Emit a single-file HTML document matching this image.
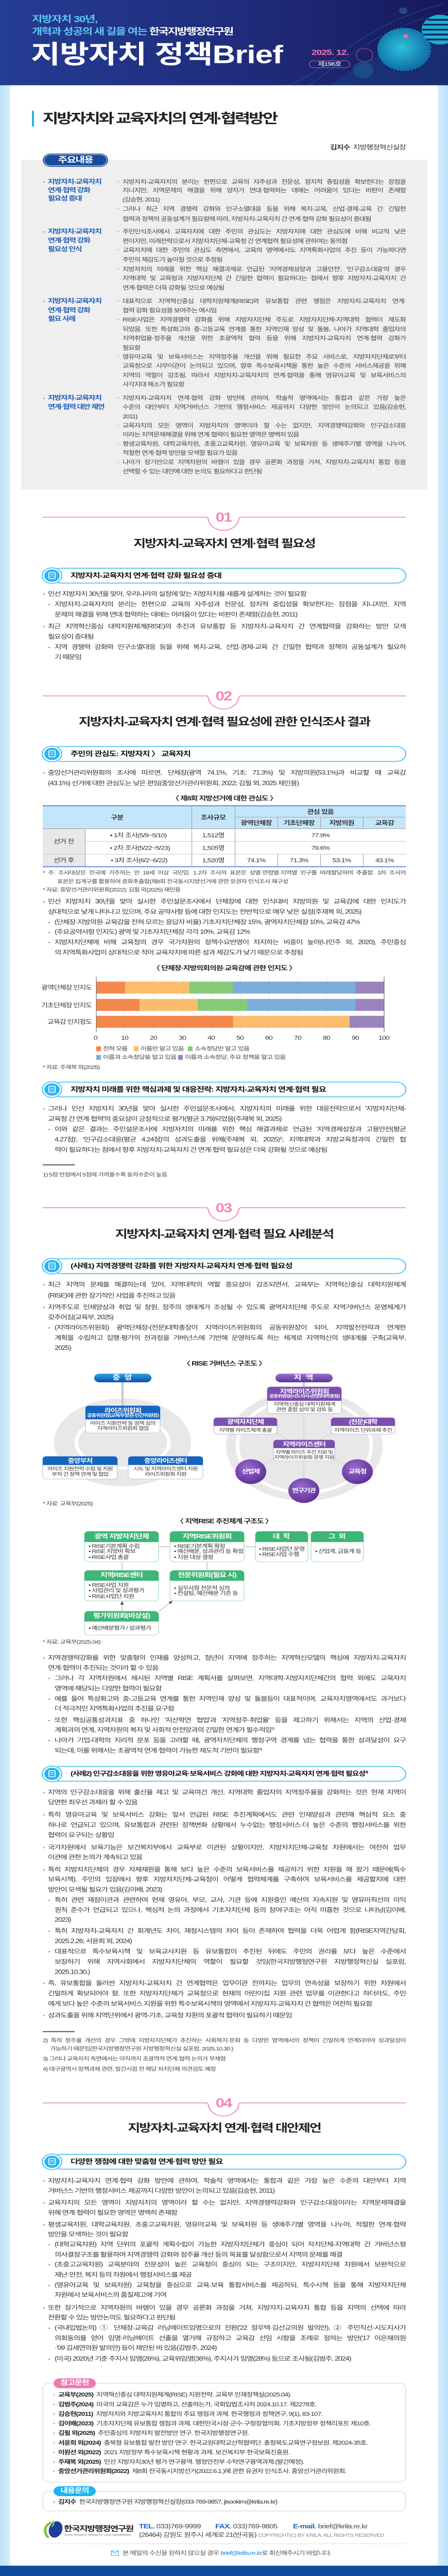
<!DOCTYPE html>
<html lang="ko"><head><meta charset="utf-8">
<style>
*{box-sizing:border-box}
html,body{margin:0;padding:0;width:100vw;height:100vh;overflow:hidden;background:#d6eefc}
#wrap{position:absolute;left:0;top:0;width:100vw;height:100vh;display:block}
#pg{position:relative;width:870px;height:6256px;overflow:hidden;background:linear-gradient(90deg,#bfe2f9 0,#d6eefc 20px,#d6eefc 850px,#bfe2f9 870px);font-family:"Liberation Sans","Noto Sans CJK KR",sans-serif}
.x{position:absolute;white-space:nowrap;z-index:2;font-family:"Liberation Sans","Noto Sans CJK KR",sans-serif}
.b{font-size:14.5px;letter-spacing:-1.1px;color:#333;line-height:20px}
.bu::before{content:"•";position:absolute;left:-10px;top:0;color:#2bb5ea;font-size:12px}
.da::before{content:"-";position:absolute;left:-13px;top:0}
.j{text-align:justify;text-align-last:justify}
.s{font-size:13.5px;letter-spacing:-1px;color:#444;line-height:20px;left:238px}
.sb::before{content:"·";position:absolute;left:-10px;color:#999;font-weight:bold}
.lb{font-size:15px;font-weight:bold;color:#1d5fbf;letter-spacing:-1.3px;line-height:20px;left:93px}
.pk::before{content:"•";position:absolute;left:-10px;color:#f07ab0;font-size:12px}
.tt{left:83px;width:705px;text-align:center;font-size:26px;font-weight:bold;letter-spacing:-2px;color:#222;line-height:36px}
.num{left:404px;width:60px;text-align:center;font-size:31px;font-weight:bold;color:#f386b8;letter-spacing:-2px;line-height:34px}
.sh{left:137px;font-size:16.5px;font-weight:bold;letter-spacing:-1px;color:#111;line-height:24px}
.n{font-size:12.5px;letter-spacing:-0.8px;color:#444;line-height:18px}
.cap{left:83px;width:705px;text-align:center;font-size:15px;font-weight:bold;letter-spacing:-1px;color:#222;line-height:20px}
.w{color:#fff;font-weight:bold;text-align:center}
.g{font-size:12.5px;letter-spacing:-0.8px;color:#333;line-height:16px}
.r{font-size:13.5px;letter-spacing:-0.9px;color:#333;line-height:20px;left:113px}
.r b{color:#222;margin-right:6px}
sup{line-height:0}
</style></head><body>
<svg id="wrap" viewBox="0 0 870 6256" preserveAspectRatio="none" xmlns="http://www.w3.org/2000/svg">
<foreignObject x="0" y="0" width="870" height="6256">
<div xmlns="http://www.w3.org/1999/xhtml" id="pg">

<svg width="870" height="6256" style="position:absolute;left:0;top:0;z-index:1;display:block" xmlns="http://www.w3.org/2000/svg">
<defs>
<linearGradient id="hd" x1="0" y1="0" x2="1" y2="0"><stop offset="0" stop-color="#243c93"/><stop offset="0.6" stop-color="#1f2a78"/><stop offset="1" stop-color="#16195a"/></linearGradient>
<radialGradient id="sp" cx="0.45" cy="0.45" r="0.6"><stop offset="0" stop-color="#2fd3e8"/><stop offset="1" stop-color="#0b6aa6"/></radialGradient>
<linearGradient id="bl" x1="0" y1="0" x2="0" y2="1"><stop offset="0" stop-color="#2aa3ea"/><stop offset="1" stop-color="#0c4fa8"/></linearGradient>
<linearGradient id="pu" x1="0" y1="0" x2="0" y2="1"><stop offset="0" stop-color="#9d6fd3"/><stop offset="1" stop-color="#5d3598"/></linearGradient>
<radialGradient id="pc" cx="0.4" cy="0.35" r="0.7"><stop offset="0" stop-color="#9a6ad0"/><stop offset="1" stop-color="#5a2f94"/></radialGradient>
</defs>
<rect x="20" y="207" width="830" height="6024" fill="#fff"/>
<rect x="0" y="6231" width="870" height="25" fill="#0f4c9f"/>
<rect x="0" y="0" width="870" height="207" fill="url(#hd)"/>
<path d="M640 207 C700 150 760 120 870 60 L870 207Z" fill="#1c3f86" opacity="0.5"/>
<path d="M560 207 C640 170 700 60 860 10" stroke="#2a8ac0" stroke-width="1" fill="none" opacity="0.6"/>
<path d="M600 207 C660 160 720 70 870 30" stroke="#2a8ac0" stroke-width="1" fill="none" opacity="0.5"/>
<circle cx="785" cy="120" r="53" fill="url(#sp)" opacity="0.9"/>
<circle cx="785" cy="120" r="53" fill="none" stroke="#16195a" stroke-width="3" stroke-dasharray="3 4"/>
<circle cx="855" cy="72" r="36" fill="#1bb0cf"/>
<path d="M822 60 H870 M820 72 H870 M822 84 H870 M828 96 H870 M830 48 H870" stroke="#16195a" stroke-width="4"/>
<circle cx="788" cy="88" r="5" fill="#f06aa8"/>
<circle cx="708" cy="134" r="16" fill="none" stroke="#c04a8a" stroke-width="1.2"/>
<circle cx="705" cy="170" r="20" fill="#1a5f8f" opacity="0.6"/>
<circle cx="783" cy="26" r="8" fill="#2a5b9a" opacity="0.7"/>
<rect x="62" y="269" width="4" height="38" fill="#1fb5ec"/>
<rect x="41" y="388" width="789" height="801" fill="#efefef"/>
<rect x="83" y="373" width="127" height="32" rx="16" fill="#1a4a9c"/>
<rect x="85.5" y="375.5" width="122" height="27" rx="13.5" fill="none" stroke="#fff" stroke-width="1"/>
<g stroke="#f386b8" stroke-width="2" fill="none">
<path d="M83 1256 H400 Q404 1256 404.5 1261 C407 1278 420 1288 434 1288 C448 1288 461 1278 463.5 1261 Q464 1256 468 1256 H788"/>
<path d="M83 1690 H400 Q404 1690 404.5 1695 C407 1712 420 1722 434 1722 C448 1722 461 1712 463.5 1695 Q464 1690 468 1690 H788"/>
<path d="M83 2933 H400 Q404 2933 404.5 2938 C407 2955 420 2965 434 2965 C448 2965 461 2955 463.5 2938 Q464 2933 468 2933 H788"/>
<path d="M83 5107 H400 Q404 5107 404.5 5112 C407 5129 420 5139 434 5139 C448 5139 461 5129 463.5 5112 Q464 5107 468 5107 H788"/>
</g>
<g>
<g transform="translate(0,1398)"><rect x="100" y="-18" width="688" height="36" rx="18" fill="#fff" stroke="#3fc1ee" stroke-width="2"/><circle cx="101" cy="0" r="19" fill="#fff" stroke="#3fc1ee" stroke-width="2"/><circle cx="101" cy="0" r="15" fill="#29b6f6"/><rect x="95" y="-8" width="12" height="15" rx="1.5" fill="none" stroke="#fff" stroke-width="1.8"/><path d="M98 -3 H104 M98 1 H104" stroke="#fff" stroke-width="1.3"/></g>
<g transform="translate(0,1831)"><rect x="100" y="-18" width="688" height="36" rx="18" fill="#fff" stroke="#3fc1ee" stroke-width="2"/><circle cx="101" cy="0" r="19" fill="#fff" stroke="#3fc1ee" stroke-width="2"/><circle cx="101" cy="0" r="15" fill="#29b6f6"/><rect x="95" y="-8" width="12" height="15" rx="1.5" fill="none" stroke="#fff" stroke-width="1.8"/><path d="M98 -3 H104 M98 1 H104" stroke="#fff" stroke-width="1.3"/></g>
<g transform="translate(0,2646)"><rect x="100" y="-18" width="688" height="36" rx="18" fill="#fff" stroke="#3fc1ee" stroke-width="2"/><circle cx="101" cy="0" r="19" fill="#fff" stroke="#3fc1ee" stroke-width="2"/><circle cx="101" cy="0" r="15" fill="#29b6f6"/><rect x="95" y="-8" width="12" height="15" rx="1.5" fill="none" stroke="#fff" stroke-width="1.8"/><path d="M98 -3 H104 M98 1 H104" stroke="#fff" stroke-width="1.3"/></g>
<g transform="translate(0,3075)"><rect x="100" y="-18" width="688" height="36" rx="18" fill="#fff" stroke="#3fc1ee" stroke-width="2"/><circle cx="101" cy="0" r="19" fill="#fff" stroke="#3fc1ee" stroke-width="2"/><circle cx="101" cy="0" r="15" fill="#29b6f6"/><rect x="95" y="-8" width="12" height="15" rx="1.5" fill="none" stroke="#fff" stroke-width="1.8"/><path d="M98 -3 H104 M98 1 H104" stroke="#fff" stroke-width="1.3"/></g>
<g transform="translate(0,4308)"><rect x="100" y="-18" width="688" height="36" rx="18" fill="#fff" stroke="#3fc1ee" stroke-width="2"/><circle cx="101" cy="0" r="19" fill="#fff" stroke="#3fc1ee" stroke-width="2"/><circle cx="101" cy="0" r="15" fill="#29b6f6"/><rect x="95" y="-8" width="12" height="15" rx="1.5" fill="none" stroke="#fff" stroke-width="1.8"/><path d="M98 -3 H104 M98 1 H104" stroke="#fff" stroke-width="1.3"/></g>
<g transform="translate(0,5250)"><rect x="100" y="-18" width="688" height="36" rx="18" fill="#fff" stroke="#3fc1ee" stroke-width="2"/><circle cx="101" cy="0" r="19" fill="#fff" stroke="#3fc1ee" stroke-width="2"/><circle cx="101" cy="0" r="15" fill="#29b6f6"/><rect x="95" y="-8" width="12" height="15" rx="1.5" fill="none" stroke="#fff" stroke-width="1.8"/><path d="M98 -3 H104 M98 1 H104" stroke="#fff" stroke-width="1.3"/></g>
</g>
<g stroke="#bbb" stroke-width="1" stroke-dasharray="2 3">
<path d="M242.9 2372V2506M298.8 2372V2506M354.7 2372V2506M410.6 2372V2506M466.5 2372V2506M522.4 2372V2506M578.3 2372V2506M634.2 2372V2506M690.1 2372V2506"/>
</g>
<rect x="187" y="2384" width="55.9" height="29" fill="#f4874b"/><rect x="242.9" y="2384" width="124.7" height="29" fill="#fbbd6b"/><rect x="367.6" y="2384" width="84.9" height="29" fill="#88c978"/><rect x="452.5" y="2384" width="237.6" height="29" fill="#7aaddc"/><rect x="690.1" y="2384" width="55.9" height="29" fill="#9b84bd"/>
<rect x="187" y="2426" width="83.9" height="29" fill="#f4874b"/><rect x="270.9" y="2426" width="112.9" height="29" fill="#fbbd6b"/><rect x="383.8" y="2426" width="96.7" height="29" fill="#88c978"/><rect x="480.5" y="2426" width="209.6" height="29" fill="#7aaddc"/><rect x="690.1" y="2426" width="55.9" height="29" fill="#9b84bd"/>
<rect x="187" y="2467" width="265.5" height="29" fill="#f4874b"/><rect x="452.5" y="2467" width="226.4" height="29" fill="#fbbd6b"/><rect x="678.9" y="2467" width="67.1" height="29" fill="#9b84bd"/>
<path d="M187 2372V2506M746 2372V2506" stroke="#555" stroke-width="1"/>
<rect x="187" y="2541" width="9" height="12" fill="#f4874b"/><rect x="260" y="2541" width="9" height="12" fill="#fbbd6b"/><rect x="365" y="2541" width="9" height="12" fill="#88c978"/>
<rect x="187" y="2562" width="9" height="12" fill="#7aaddc"/><rect x="346" y="2562" width="9" height="12" fill="#9b84bd"/>
<rect x="83" y="2828" width="62" height="2" fill="#333"/>
<rect x="83" y="4933" width="62" height="2" fill="#333"/>
<ellipse cx="238" cy="3503" rx="133" ry="107" fill="#e8e8e8"/>
<ellipse cx="238" cy="3503" rx="90" ry="62" fill="none" stroke="#fff" stroke-width="7"/>
<ellipse cx="591" cy="3511" rx="152" ry="134" fill="#e8e8e8"/>
<ellipse cx="591" cy="3510" rx="130" ry="115" fill="none" stroke="#fff" stroke-width="7"/>
<rect x="236" y="3356" width="4" height="58" fill="#c8c8c8"/>
<rect x="588" y="3356" width="4" height="12" fill="#c8c8c8"/>
<rect x="183" y="3336" width="111" height="21" rx="10" fill="url(#bl)"/>
<rect x="535" y="3336" width="111" height="21" rx="10" fill="url(#pu)"/>
<g stroke="#aaa" stroke-width="1" stroke-dasharray="3 3" fill="none">
<path d="M590 3433V3497M590 3548V3600M538 3480L560 3497M643 3480L621 3497M536 3540L506 3556M645 3540L675 3556"/>
</g>
<rect x="166" y="3414" width="145" height="66" rx="7" fill="#fff" stroke="#a9c8ea" stroke-width="1.2"/>
<path d="M166 3447 V3421 Q166 3414 173 3414 H304 Q311 3414 311 3421 V3447Z" fill="#1565c0"/>
<rect x="83" y="3537" width="145" height="55" rx="7" fill="#fff" stroke="#a9c8ea" stroke-width="1.2"/>
<path d="M83 3558 V3544 Q83 3537 90 3537 H221 Q228 3537 228 3544 V3558Z" fill="#1565c0"/>
<rect x="249" y="3537" width="145" height="55" rx="7" fill="#fff" stroke="#a9c8ea" stroke-width="1.2"/>
<path d="M249 3558 V3544 Q249 3537 256 3537 H387 Q394 3537 394 3544 V3558Z" fill="#1565c0"/>
<rect x="519" y="3368" width="144" height="65" rx="7" fill="#fff" stroke="#c3b0e0" stroke-width="1.2"/>
<path d="M519 3402 V3375 Q519 3368 526 3368 H656 Q663 3368 663 3375 V3402Z" fill="#7b4fb0"/>
<rect x="415" y="3443" width="123" height="40" rx="7" fill="#fff" stroke="#c3b0e0" stroke-width="1.2"/>
<path d="M415 3463 V3450 Q415 3443 422 3443 H531 Q538 3443 538 3450 V3463Z" fill="#7b4fb0"/>
<rect x="643" y="3443" width="124" height="40" rx="7" fill="#fff" stroke="#c3b0e0" stroke-width="1.2"/>
<path d="M643 3463 V3450 Q643 3443 650 3443 H760 Q767 3443 767 3450 V3463Z" fill="#7b4fb0"/>
<rect x="531" y="3497" width="119" height="51" rx="7" fill="#fff" stroke="#c3b0e0" stroke-width="1.2"/>
<path d="M531 3517 V3504 Q531 3497 538 3497 H643 Q650 3497 650 3504 V3517Z" fill="#7b4fb0"/>
<circle cx="487" cy="3574" r="30" fill="url(#pc)"/>
<circle cx="694" cy="3574" r="30" fill="url(#pc)"/>
<circle cx="590" cy="3620" r="30" fill="url(#pc)"/>
<g stroke="#999" stroke-width="1" fill="none">
<path d="M308 3756H330M474 3756H496M237 3793V3814M402 3793V3814M237 3913V3892M308 3914L333 3890"/>
</g>
<path d="M237 3888 L233.5 3897 L240.5 3897Z" fill="#555"/>
<path d="M335 3887 L327 3891 L332 3896Z" fill="#555"/>
<rect x="164" y="3719" width="144" height="74" rx="8" fill="#fff" stroke="#a6dec0" stroke-width="1.3"/>
<path d="M164 3745 V3727 Q164 3719 172 3719 H300 Q308 3719 308 3727 V3745Z" fill="#3db676"/>
<rect x="330" y="3719" width="144" height="74" rx="8" fill="#fff" stroke="#a6dec0" stroke-width="1.3"/>
<path d="M330 3745 V3727 Q330 3719 338 3719 H466 Q474 3719 474 3727 V3745Z" fill="#3db676"/>
<rect x="496" y="3719" width="102" height="74" rx="8" fill="#fff" stroke="#a6dec0" stroke-width="1.3"/>
<path d="M496 3745 V3727 Q496 3719 504 3719 H590 Q598 3719 598 3727 V3745Z" fill="#3db676"/>
<rect x="604" y="3719" width="102" height="74" rx="8" fill="#fff" stroke="#a6dec0" stroke-width="1.3"/>
<path d="M604 3745 V3727 Q604 3719 612 3719 H698 Q706 3719 706 3727 V3745Z" fill="#3db676"/>
<rect x="164" y="3814" width="144" height="74" rx="8" fill="#fff" stroke="#a6dec0" stroke-width="1.3"/>
<path d="M164 3839 V3822 Q164 3814 172 3814 H300 Q308 3814 308 3822 V3839Z" fill="#3db676"/>
<rect x="330" y="3814" width="144" height="74" rx="8" fill="#fff" stroke="#a6dec0" stroke-width="1.3"/>
<path d="M330 3839 V3822 Q330 3814 338 3814 H466 Q474 3814 474 3822 V3839Z" fill="#3db676"/>
<rect x="164" y="3913" width="144" height="58" rx="8" fill="#fff" stroke="#a6dec0" stroke-width="1.3"/>
<path d="M164 3938 V3921 Q164 3913 172 3913 H300 Q308 3913 308 3921 V3938Z" fill="#3db676"/>
<rect x="83" y="5788" width="705" height="240" rx="12" fill="#fff" stroke="#d4d4d4" stroke-width="1.2"/>
<rect x="104" y="5776" width="82" height="24" rx="12" fill="#f07ab0"/>
<rect x="83" y="6050" width="705" height="48" rx="12" fill="#fff" stroke="#d4d4d4" stroke-width="1.2"/>
<rect x="104" y="6038" width="82" height="24" rx="12" fill="#1fb5ec"/>
<ellipse cx="108" cy="6143" rx="13" ry="20" fill="#1b3f9a" transform="rotate(12 108 6143)"/>
<path d="M100 6126 C86 6132 84 6150 94 6163" stroke="#7cc143" stroke-width="5" fill="none"/>
<path d="M102 6122 C106 6126 104 6134 100 6136" stroke="#7cc143" stroke-width="3" fill="none"/>
<path d="M83 6178 H788" stroke="#aaa" stroke-width="1" stroke-dasharray="2 2"/>
<rect x="216" y="6195" width="14" height="11" fill="none" stroke="#29b6f6" stroke-width="1.3"/>
<path d="M216 6195 L223 6201 L230 6195" stroke="#29b6f6" stroke-width="1.2" fill="none"/>
</svg>

<div class="x" style="left:62px;top:34px;font-size:22px;font-weight:bold;color:#5ec8f2;letter-spacing:-1.2px;line-height:26px">지방자치 30년,</div>
<div class="x" style="left:62px;top:64px;font-size:22px;font-weight:bold;color:#5ec8f2;letter-spacing:-1.6px;line-height:26px">개혁과 성공의 새 길을 여는 <span style="color:#fff;letter-spacing:-2.2px">한국지방행정연구원</span></div>
<div class="x" style="left:60px;top:100px;font-size:62px;font-weight:bold;color:#fff;letter-spacing:-1px;line-height:66px">지방자치 정책Brief</div>
<div class="x" style="left:605px;top:117px;font-size:19px;font-weight:bold;color:#ff6fae;letter-spacing:-0.8px;line-height:22px">2025. 12.</div>
<div class="x" style="left:600px;top:147px;width:80px;height:18px;border:1.5px solid #ff6fae;border-radius:10px;font-size:14px;color:#fff;text-align:center;line-height:15px;letter-spacing:-0.8px">제196호</div>

<div class="x" style="left:83px;top:268px;font-size:33px;font-weight:bold;color:#222;letter-spacing:-3.2px;line-height:40px">지방자치와 교육자치의 연계·협력방안</div>
<div class="x" style="left:500px;width:288px;text-align:right;top:349px;font-size:15px;color:#333;letter-spacing:-1px;line-height:20px"><b>김지수</b>&#160; 지방행정혁신실장</div>

<div class="x w" style="left:83px;top:377px;width:127px;font-size:20px;letter-spacing:-1.5px;line-height:24px">주요내용</div>

<div class="x lb pk" style="top:432px">지방자치-교육자치</div>
<div class="x lb" style="top:453px">연계·협력 강화</div>
<div class="x lb" style="top:473px">필요성 증대</div>
<div class="x s sb j" style="top:432px;width:550px">지방자치-교육자치의 분리는 한편으로 교육의 자주성과 전문성, 정치적 중립성을 확보한다는 장점을</div>
<div class="x s j" style="top:453px;width:550px">지니지만, 지역문제의 해결을 위해 양자가 연대·협력하는 데에는 어려움이 있다는 비판이 존재함</div>
<div class="x s" style="top:475px">(김승현, 2011)</div>
<div class="x s sb j" style="top:498px;width:550px">그러나 최근 지역 경쟁력 강화와 인구소멸대응 등을 위해 복지-교육, 산업·경제-교육 간 긴밀한</div>
<div class="x s" style="top:522px">협력과 정책의 공동설계가 필요함에 따라, 지방자치-교육자치 간 연계·협력 강화 필요성이 증대됨</div>

<div class="x lb pk" style="top:553px">지방자치-교육자치</div>
<div class="x lb" style="top:575px">연계·협력 강화</div>
<div class="x lb" style="top:596px">필요성 인식</div>
<div class="x s sb j" style="top:553px;width:550px">주민인식조사에서 교육자치에 대한 주민의 관심도는 지방자치에 대한 관심도에 비해 비교적 낮은</div>
<div class="x s" style="top:576px">편이지만, 미래전략으로서 지방자치단체-교육청 간 연계협력 필요성에 관하여는 동의함</div>
<div class="x s sb j" style="top:598px;width:550px">교육자치에 대한 주민의 관심도 측면에서, 교육의 영역에서도 지역특화사업의 추진 등이 가능하다면</div>
<div class="x s" style="top:621px">주민의 체감도가 높아질 것으로 추정됨</div>
<div class="x s sb j" style="top:644px;width:550px">지방자치의 미래를 위한 핵심 해결과제로 언급된 '지역경제성장과 고용안전', '인구감소대응'의 경우</div>
<div class="x s j" style="top:666px;width:550px">지역대학 및 교육청과 지방자치단체 간 긴밀한 협력이 필요하다는 점에서 향후 지방자치-교육자치 간</div>
<div class="x s" style="top:689px">연계·협력은 더욱 강화될 것으로 예상됨</div>

<div class="x lb pk" style="top:722px">지방자치-교육자치</div>
<div class="x lb" style="top:744px">연계·협력 강화</div>
<div class="x lb" style="top:765px">필요 사례</div>
<div class="x s sb j" style="top:722px;width:550px">대표적으로 지역혁신중심 대학지원체계(RISE)와 유보통합 관련 쟁점은 지방자치-교육자치 연계·</div>
<div class="x s" style="top:744px">협력 강화 필요성을 보여주는 예시임</div>
<div class="x s sb j" style="top:767px;width:550px">RISE사업은 지역경쟁력 강화를 위해 지방자치단체 주도로 지방자치단체-지역대학 협력이 제도화</div>
<div class="x s j" style="top:790px;width:550px">되었음. 또한 특성화고와 중-고등교육 연계를 통한 지역인재 양성 및 돌봄, 나아가 지역대학 졸업자의</div>
<div class="x s j" style="top:812px;width:550px">지역취업율·정주율 개선을 위한 초광역적 협력 등을 위해 지방자치-교육자치 연계·협력 강화가</div>
<div class="x s" style="top:835px">필요함</div>
<div class="x s sb j" style="top:857px;width:550px">영유아교육 및 보육서비스는 지역정주율 개선을 위해 필요한 주요 서비스로, 지방자치단체로부터</div>
<div class="x s j" style="top:879px;width:550px">교육청으로 사무이관이 논의되고 있으며, 향후 특수보육시책을 통한 높은 수준의 서비스제공을 위해</div>
<div class="x s j" style="top:902px;width:550px">지역의 역할이 강조됨. 따라서 지방자치-교육자치의 연계·협력을 통해 영유아교육 및 보육서비스의</div>
<div class="x s" style="top:924px">사각지대 해소가 필요함</div>

<div class="x lb pk" style="top:957px">지방자치-교육자치</div>
<div class="x lb" style="top:979px">연계·협력 대안 제언</div>
<div class="x s sb j" style="top:957px;width:550px">지방자치-교육자치 연계·협력 강화 방안에 관하여, 학술적 영역에서는 통합과 같은 가장 높은</div>
<div class="x s j" style="top:979px;width:550px">수준의 대안부터 지역거버넌스 기반의 행정서비스 제공까지 다양한 방안이 논의되고 있음(김승현,</div>
<div class="x s" style="top:1002px">2011)</div>
<div class="x s sb j" style="top:1024px;width:550px">교육자치의 모든 영역이 지방자치의 영역이라 할 수는 없지만, 지역경쟁력강화와 인구감소대응</div>
<div class="x s" style="top:1046px">이라는 지역문제해결을 위해 연계·협력이 필요한 영역은 명백히 있음</div>
<div class="x s sb j" style="top:1068px;width:550px">평생교육차원, 대학교육차원, 초중고교육차원, 영유아교육 및 보육차원 등 생애주기별 영역을 나누어,</div>
<div class="x s" style="top:1090px">적절한 연계·협력 방안을 모색할 필요가 있음</div>
<div class="x s sb j" style="top:1113px;width:550px">나아가 장기안으로 지역차원의 바램이 있을 경우 공론화 과정을 거쳐, 지방자치-교육자치 통합 등을</div>
<div class="x s" style="top:1135px">선택할 수 있는 대안에 대한 논의도 필요하다고 판단됨</div>

<div class="x num" style="top:1240px">01</div>
<div class="x tt" style="top:1302px">지방자치-교육자치 연계·협력 필요성</div>
<div class="x sh" style="top:1386px">지방자치-교육자치 연계·협력 강화 필요성 증대</div>
<div class="x b bu" style="left:93px;top:1433px">민선 지방자치 30년을 맞아, 우리나라의 실정에 맞는 지방자치를 새롭게 설계하는 것이 필요함</div>
<div class="x b da j" style="left:106px;top:1458px;width:682px">지방자치-교육자치의 분리는 한편으로 교육의 자주성과 전문성, 정치적 중립성을 확보한다는 장점을 지니지만, 지역</div>
<div class="x b" style="left:106px;top:1483px">문제의 해결을 위해 연대·협력하는 데에는 어려움이 있다는 비판이 존재함(김승현, 2011)</div>
<div class="x b bu j" style="left:93px;top:1512px;width:695px">최근 지역혁신중심 대학지원체계(RISE)의 추진과 유보통합 등 지방자치-교육자치 간 연계협력을 강화하는 방안 모색</div>
<div class="x b" style="left:93px;top:1537px">필요성이 증대됨</div>
<div class="x b da j" style="left:106px;top:1562px;width:682px">지역 경쟁력 강화와 인구소멸대응 등을 위해 복지-교육, 산업·경제-교육 간 긴밀한 협력과 정책의 공동설계가 필요하</div>
<div class="x b" style="left:106px;top:1586px">기 때문임</div>

<div class="x num" style="top:1674px">02</div>
<div class="x tt" style="top:1735px">지방자치-교육자치 연계·협력 필요성에 관한 인식조사 결과</div>
<div class="x sh" style="top:1819px">주민의 관심도: 지방자치 〉 교육자치</div>
<div class="x b bu j" style="left:93px;top:1867px;width:695px">중앙선거관리위원회의 조사에 따르면, 단체장(광역 74.1%, 기초: 71.3%) 및 지방의원(53.1%)과 비교할 때 교육감</div>
<div class="x b" style="left:93px;top:1893px">(43.1%) 선거에 대한 관심도는 낮은 편임(중앙선거관리위원회, 2022; 김필 외, 2025 재인용)</div>
<div class="x cap" style="top:1930px">〈 제8회 지방선거에 대한 관심도 〉</div>

<div class="x" style="left:83px;top:1956px;width:705px">
<table style="border-collapse:collapse;width:705px;table-layout:fixed;font-size:14px;letter-spacing:-0.8px;color:#333;text-align:center">
<colgroup><col style="width:82px"/><col style="width:207px"/><col style="width:84px"/><col style="width:83px"/><col style="width:83px"/><col style="width:83px"/><col style="width:83px"/></colgroup>
<tbody>
<tr style="height:27px;background:#c5e6fa"><td colspan="2" rowspan="2" style="border-top:2px solid #3a7bd5;border-right:1px solid #999;font-weight:bold">구분</td><td rowspan="2" style="border-top:2px solid #3a7bd5;border-right:1px solid #999;font-weight:bold">조사규모</td><td colspan="4" style="border-top:2px solid #3a7bd5;border-bottom:1px solid #999;font-weight:bold">관심 있음</td></tr>
<tr style="height:28px;background:#c5e6fa;font-weight:bold"><td style="border-right:1px solid #999">광역단체장</td><td style="border-right:1px solid #999">기초단체장</td><td style="border-right:1px solid #999">지방의원</td><td>교육감</td></tr>
<tr style="height:31px"><td rowspan="2" style="background:#e8e8e8;border-top:1.5px solid #888;border-right:1px solid #999">선거 전</td><td style="border-top:1.5px solid #888;border-right:1px solid #999;border-bottom:1px solid #bbb">• 1차 조사(5/9~5/10)</td><td style="border-top:1.5px solid #888;border-right:1px solid #999;border-bottom:1px solid #bbb">1,512명</td><td colspan="4" style="border-top:1.5px solid #888;border-bottom:1px solid #bbb">77.9%</td></tr>
<tr style="height:31px"><td style="border-right:1px solid #999;border-bottom:1px solid #bbb">&#160;&#160;• 2차 조사(5/22~5/23)</td><td style="border-right:1px solid #999;border-bottom:1px solid #bbb">1,505명</td><td colspan="4" style="border-bottom:1px solid #bbb">79.6%</td></tr>
<tr style="height:31px"><td style="background:#e8e8e8;border-right:1px solid #999;border-bottom:2px solid #3a7bd5;border-top:1px solid #bbb">선거 후</td><td style="border-right:1px solid #999;border-bottom:2px solid #3a7bd5">&#160;• 3차 조사(6/2~6/22)</td><td style="border-right:1px solid #999;border-bottom:2px solid #3a7bd5">1,520명</td><td style="border-right:1px solid #999;border-bottom:2px solid #3a7bd5">74.1%</td><td style="border-right:1px solid #999;border-bottom:2px solid #3a7bd5">71.3%</td><td style="border-right:1px solid #999;border-bottom:2px solid #3a7bd5">53.1%</td><td style="border-bottom:2px solid #3a7bd5">43.1%</td></tr>
</tbody></table></div>

<div class="x n j" style="left:83px;top:2111px;width:705px">* 주: 조사대상은 전국에 거주하는 만 18세 이상 국민임. 1·2차 조사의 표본은 성별·연령별·지역별 인구를 비례할당하여 추출함. 3차 조사의</div>
<div class="x n" style="left:111px;top:2132px">표본은 집계구를 활용하여 층화추출함(제8회 전국동시지방선거에 관한 유권자 인식조사 재구성</div>
<div class="x n" style="left:83px;top:2152px">* 자료: 중앙선거관리위원회(2022); 김필 외(2025) 재인용</div>

<div class="x b bu j" style="left:93px;top:2180px;width:695px">민선 지방자치 30년을 맞아 실시한 주민설문조사에서 단체장에 대한 인식대비 지방의원 및 교육감에 대한 인지도가</div>
<div class="x b" style="left:93px;top:2205px">상대적으로 낮게 나타나고 있으며, 주요 공약사항 등에 대한 인지도는 전반적으로 매우 낮은 실정(주재복 외, 2025)</div>
<div class="x b da" style="left:106px;top:2230px">(단체장·지방의원·교육감을 전혀 모르는 응답자 비율) 기초자치단체장 15%, 광역자치단체장 10%, 교육감 47%</div>
<div class="x b da" style="left:106px;top:2254px">(주요공약사항 인지도) 광역 및 기초자치단체장 각각 10%, 교육감 12%</div>
<div class="x b da j" style="left:106px;top:2279px;width:682px">지방자치단체에 비해 교육청의 경우 국가차원의 정책수요반영이 차지하는 비중이 높아(나민주 외, 2020), 주민중심</div>
<div class="x b" style="left:106px;top:2304px">의 지역특화사업이 상대적으로 적어 교육자치에 따른 성과 체감도가 낮기 때문으로 추정됨</div>

<div class="x cap" style="top:2342px">〈 단체장·지방의회의원·교육감에 관한 인지도 〉</div>
<div class="x" style="left:40px;width:138px;text-align:right;top:2388px;font-size:14px;letter-spacing:-1px;color:#333;line-height:20px">광역단체장 인지도</div>
<div class="x" style="left:40px;width:138px;text-align:right;top:2431px;font-size:14px;letter-spacing:-1px;color:#333;line-height:20px">기초단체장 인지도</div>
<div class="x" style="left:40px;width:138px;text-align:right;top:2471px;font-size:14px;letter-spacing:-1px;color:#333;line-height:20px">교육감 인지정도</div>
<div class="x" style="left:0;top:2510px;width:870px;height:20px;font-size:14px;color:#333;letter-spacing:-0.8px;line-height:20px">
<span style="position:absolute;left:182px">0</span><span style="position:absolute;left:235px">10</span><span style="position:absolute;left:291px">20</span><span style="position:absolute;left:347px">30</span><span style="position:absolute;left:403px">40</span><span style="position:absolute;left:459px">50</span><span style="position:absolute;left:515px">60</span><span style="position:absolute;left:571px">70</span><span style="position:absolute;left:627px">80</span><span style="position:absolute;left:683px">90</span><span style="position:absolute;left:735px">100</span></div>
<div class="x" style="left:0;top:2537px;width:870px;height:20px;font-size:13px;letter-spacing:-0.8px;color:#444;line-height:20px">
<span style="position:absolute;left:200px">전혀 모름</span><span style="position:absolute;left:273px">이름만 알고 있음</span><span style="position:absolute;left:378px">소속정당만 알고 있음</span></div>
<div class="x" style="left:0;top:2558px;width:870px;height:20px;font-size:13px;letter-spacing:-0.8px;color:#444;line-height:20px">
<span style="position:absolute;left:200px">이름과 소속정당을 알고 있음</span><span style="position:absolute;left:359px">이름과 소속정당, 주요 정책을 알고 있음</span></div>
<div class="x n" style="left:83px;top:2583px">* 자료: 주재복 외(2025)</div>

<div class="x sh" style="top:2634px">지방자치 미래를 위한 핵심과제 및 대응전략: 지방자치-교육자치 연계·협력 필요</div>
<div class="x b bu j" style="left:93px;top:2683px;width:695px">그러나 민선 지방자치 30년을 맞아 실시한 주민설문조사에서, 지방자치의 미래를 위한 대응전략으로서 '지방자치단체-</div>
<div class="x b" style="left:93px;top:2708px">교육청 간 연계·협력'의 중요성이 긍정적으로 평가(평균 3.79)되었음(주재복 외, 2025)</div>
<div class="x b da j" style="left:106px;top:2733px;width:682px">이와 같은 결과는 주민설문조사에 지방자치의 미래를 위한 핵심 해결과제로 언급된 '지역경제성장과 고용안전(평균</div>
<div class="x b j" style="left:106px;top:2758px;width:682px">4.27점)', '인구감소대응(평균 4.24점)'의 성과도출을 위해(주재복 외, 2025)<sup style="font-size:8px">1)</sup>, 지역대학과 지방교육청과의 긴밀한 협</div>
<div class="x b" style="left:106px;top:2783px">력이 필요하다는 점에서 향후 지방자치-교육자치 간 연계·협력 필요성은 더욱 강화될 것으로 예상됨</div>
<div class="x n" style="left:83px;top:2844px">1) 5점 만점에서 5점에 가까울수록 동의수준이 높음</div>

<div class="x num" style="top:2917px">03</div>
<div class="x tt" style="top:2979px">지방자치-교육자치 연계·협력 필요 사례분석</div>
<div class="x sh" style="top:3063px">(사례1) 지역경쟁력 강화를 위한 지방자치-교육자치 연계·협력 필요성</div>
<div class="x b bu j" style="left:93px;top:3110px;width:695px">최근 지역의 문제를 해결하는데 있어, 지역대학의 역할 중요성이 강조되면서, 교육부는 지역혁신중심 대학지원체계</div>
<div class="x b" style="left:93px;top:3137px">(RISE)에 관한 장기적인 사업을 추진하고 있음</div>
<div class="x b bu j" style="left:93px;top:3165px;width:695px">지역주도로 인재양성과 취업 및 창원, 정주의 생태계가 조성될 수 있도록 광역자치단체 주도로 지역거버넌스 운영체계가</div>
<div class="x b" style="left:93px;top:3190px">갖추어짐(교육부, 2025)</div>
<div class="x b da j" style="left:106px;top:3215px;width:682px">(지역라이즈위원회) 광역단체장-(전문)대학총장이 지역라이즈위원회의 공동위원장이 되어, 지역발전전략과 연계한</div>
<div class="x b j" style="left:106px;top:3240px;width:682px">계획을 수립하고 집행·평가의 전과정을 거버넌스에 기반해 운영하도록 하는 체계로 지역혁신의 생태계를 구축(교육부,</div>
<div class="x b" style="left:106px;top:3264px">2025)</div>

<div class="x cap" style="top:3302px">〈 RISE 거버넌스 구조도 〉</div>
<div class="x w" style="left:183px;width:111px;top:3336px;font-size:16px;line-height:21px;letter-spacing:2px">중 앙</div>
<div class="x w" style="left:535px;width:111px;top:3336px;font-size:16px;line-height:21px;letter-spacing:2px">지 역</div>
<div class="x w" style="left:166px;width:145px;top:3416px;font-size:14px;letter-spacing:-1px;line-height:18px">라이즈위원회</div>
<div class="x w" style="left:166px;width:145px;top:3431px;font-size:10.5px;letter-spacing:-0.9px;line-height:14px">공동위원장(교육부장관-민간위원장)</div>
<div class="x g" style="left:166px;width:145px;text-align:center;top:3449px;font-size:11.5px">라이즈 지원전략 등 정책 심의</div>
<div class="x g" style="left:166px;width:145px;text-align:center;top:3462px;font-size:11.5px">지역라이즈위원회 협업</div>
<div class="x w" style="left:83px;width:145px;top:3538px;font-size:14px;letter-spacing:-1px;line-height:18px">중앙부처</div>
<div class="x g" style="left:83px;width:145px;text-align:center;top:3560px;font-size:11.5px">라이즈 지원전략 수립 및 지원</div>
<div class="x g" style="left:83px;width:145px;text-align:center;top:3573px;font-size:11.5px">부처 간 정책 연계 및 협업</div>
<div class="x w" style="left:249px;width:145px;top:3538px;font-size:14px;letter-spacing:-1px;line-height:18px">중앙라이즈센터</div>
<div class="x g" style="left:249px;width:145px;text-align:center;top:3560px;font-size:11.5px">시도 및 지역라이즈센터 지원</div>
<div class="x g" style="left:249px;width:145px;text-align:center;top:3573px;font-size:11.5px">라이즈위원회 지원</div>
<div class="x w" style="left:519px;width:144px;top:3370px;font-size:14px;letter-spacing:-1px;line-height:18px">지역라이즈위원회</div>
<div class="x w" style="left:519px;width:144px;top:3385px;font-size:10px;letter-spacing:-0.9px;line-height:14px">공동위원장(시도지사-(전문)대학총장)</div>
<div class="x g" style="left:519px;width:144px;text-align:center;top:3403px;font-size:11.5px">지역혁신중심 대학지원체계</div>
<div class="x g" style="left:519px;width:144px;text-align:center;top:3416px;font-size:11.5px">관련 종합 심의 및 검토 등</div>
<div class="x w" style="left:415px;width:123px;top:3444px;font-size:14px;letter-spacing:-1px;line-height:18px">광역자치단체</div>
<div class="x g" style="left:415px;width:123px;text-align:center;top:3466px;font-size:11.5px">지역별 라이즈체계 총괄</div>
<div class="x w" style="left:643px;width:124px;top:3444px;font-size:14px;letter-spacing:-1px;line-height:18px">(전문)대학</div>
<div class="x g" style="left:643px;width:124px;text-align:center;top:3466px;font-size:11.5px">지역라이즈 단위과제 추진</div>
<div class="x w" style="left:531px;width:119px;top:3498px;font-size:14px;letter-spacing:-1px;line-height:18px">지역라이즈센터</div>
<div class="x g" style="left:531px;width:119px;text-align:center;top:3519px;font-size:11px">지역별 라이즈 추진 지원 및</div>
<div class="x g" style="left:531px;width:119px;text-align:center;top:3532px;font-size:11px">지역라이즈위원회 운영 지원</div>
<div class="x w" style="left:457px;width:60px;top:3564px;font-size:13.5px;letter-spacing:-1px;line-height:20px">산업체</div>
<div class="x w" style="left:664px;width:60px;top:3564px;font-size:13.5px;letter-spacing:-1px;line-height:20px">교육청</div>
<div class="x w" style="left:560px;width:60px;top:3610px;font-size:13.5px;letter-spacing:-1px;line-height:20px">연구기관</div>
<div class="x n" style="left:83px;top:3643px">* 자료: 교육부(2025)</div>

<div class="x cap" style="top:3685px">〈 지역RISE 추진체계 구조도 〉</div>
<div class="x w" style="left:164px;width:144px;top:3721px;font-size:15px;letter-spacing:-1px;line-height:22px">광역 지방자치단체</div>
<div class="x w" style="left:330px;width:144px;top:3721px;font-size:15px;letter-spacing:-1px;line-height:22px">지역RISE위원회</div>
<div class="x w" style="left:496px;width:102px;top:3721px;font-size:15px;letter-spacing:1px;line-height:22px">대 학</div>
<div class="x w" style="left:604px;width:102px;top:3721px;font-size:15px;letter-spacing:1px;line-height:22px">그 외</div>
<div class="x g" style="left:172px;top:3747px">• RISE기본계획 수립</div>
<div class="x g" style="left:172px;top:3760px">• RISE 지방비 확보</div>
<div class="x g" style="left:172px;top:3774px">• RISE사업 총괄</div>
<div class="x g" style="left:338px;top:3747px">• RISE기본계획 확정</div>
<div class="x g" style="left:338px;top:3760px">• 예산배분, 성과관리 등 확정</div>
<div class="x g" style="left:338px;top:3774px">• 지원 대상 결정</div>
<div class="x g" style="left:503px;top:3754px">• RISE사업단 운영</div>
<div class="x g" style="left:503px;top:3767px">• RISE사업 수행</div>
<div class="x g" style="left:612px;top:3760px">• 산업계, 금융계 등</div>
<div class="x w" style="left:164px;width:144px;top:3815px;font-size:15px;letter-spacing:-1px;line-height:22px">지역RISE센터</div>
<div class="x w" style="left:330px;width:144px;top:3815px;font-size:15px;letter-spacing:-1px;line-height:22px">전문위원회(필요 시)</div>
<div class="x g" style="left:172px;top:3842px">• RISE사업 지원</div>
<div class="x g" style="left:172px;top:3855px">• 사업관리 및 성과평가</div>
<div class="x g" style="left:172px;top:3869px">• RISE사업단 지원</div>
<div class="x g" style="left:338px;top:3849px">• 실무사항 전문적 심의</div>
<div class="x g" style="left:338px;top:3862px">• 컨설팅, 예산배분 기준 등</div>
<div class="x w" style="left:164px;width:144px;top:3914px;font-size:15px;letter-spacing:-1px;line-height:22px">평가위원회(비상설)</div>
<div class="x g" style="left:172px;top:3946px">• 예산배분평가 / 성과평가</div>
<div class="x n" style="left:83px;top:3979px">* 자료: 교육부(2025.04)</div>

<div class="x b bu j" style="left:93px;top:4017px;width:695px">지역경쟁력강화를 위한 맞춤형의 인재를 양성하고, 청년이 지역에 정주하는 지역혁신모델의 핵심에 지방자치-교육자치</div>
<div class="x b" style="left:93px;top:4041px">연계·협력이 추진되는 것이라 할 수 있음</div>
<div class="x b da j" style="left:106px;top:4066px;width:682px">그러나 각 지역차원에서 제시된 지역별 RISE 계획서를 살펴보면, 지역대학-지방자치단체간의 협력 외에도 교육자치</div>
<div class="x b" style="left:106px;top:4091px">영역에 해당되는 다양한 협력이 필요함</div>
<div class="x b da j" style="left:106px;top:4116px;width:682px">예를 들어 특성화고와 중-고등교육 연계를 통한 지역인재 양성 및 돌봄등이 대표적이며, 교육자치영역에서도 과거보다</div>
<div class="x b" style="left:106px;top:4140px">더 적극적인 지역특화사업의 추진을 요구함</div>
<div class="x b da j" style="left:106px;top:4168px;width:682px">또한 핵심공통성과지표 중 하나인 '지산학연 협업'과 '지역정주·취업율' 등을 제고하기 위해서는 지역의 산업·경제</div>
<div class="x b" style="left:106px;top:4192px">계획과의 연계, 지역차원의 복지 및 사회적 안전망과의 긴밀한 연계가 필수적임<sup style="font-size:8px">2)</sup></div>
<div class="x b da j" style="left:106px;top:4217px;width:682px">나아가 기업-대학의 지리적 분포 등을 고려할 때, 광역자치단체의 행정구역 경계를 넘는 협력을 통한 성과달성이 요구</div>
<div class="x b" style="left:106px;top:4242px">되는데, 이를 위해서는 초광역적 연계·협력이 가능한 제도적 기반이 필요함<sup style="font-size:8px">3)</sup></div>

<div class="x sh" style="top:4296px;font-size:15px;letter-spacing:-1.1px">(사례2) 인구감소대응을 위한 영유아교육·보육서비스 강화에 대한 지방자치-교육자치 연계·협력 필요성<sup style="font-size:8px">4)</sup></div>
<div class="x b bu j" style="left:93px;top:4343px;width:695px">지역의 인구감소대응을 위해 출산율 제고 및 교육여건 개선, 지역대학 졸업자의 지역정주율을 강화하는 것은 현재 지역이</div>
<div class="x b" style="left:93px;top:4368px">당면한 최우선 과제라 할 수 있음</div>
<div class="x b bu j" style="left:93px;top:4398px;width:695px">특히 영유아교육 및 보육서비스 강화는 앞서 언급된 RISE 추진계획에서도 관련 인재양성과 관련해 핵심적 요소 중</div>
<div class="x b j" style="left:93px;top:4423px;width:695px">하나로 언급되고 있으며, 유보통합과 관련된 정책변화 상황에서 누수없는 행정서비스·더 높은 수준의 행정서비스를 위한</div>
<div class="x b" style="left:93px;top:4447px">협력이 요구되는 상황임</div>
<div class="x b bu j" style="left:93px;top:4477px;width:695px">국가차원에서 보육기능은 보건복지부에서 교육부로 이관된 상황이지만, 지방자치단체-교육청 차원에서는 여전히 업무</div>
<div class="x b" style="left:93px;top:4501px">이관에 관한 논의가 계속되고 있음</div>
<div class="x b bu j" style="left:93px;top:4531px;width:695px">특히 지방자치단체의 경우 자체재원을 통해 보다 높은 수준의 보육서비스를 제공하기 위한 지원을 해 왔기 때문에(특수</div>
<div class="x b j" style="left:93px;top:4555px;width:695px">보육시책), 주민의 입장에서 향후 지방자치단체-교육청이 어떻게 협력체계를 구축하여 보육서비스를 제공할지에 대한</div>
<div class="x b" style="left:93px;top:4580px">방안이 모색될 필요가 있음(김이배, 2023)</div>
<div class="x b da j" style="left:106px;top:4605px;width:682px">특히 관련 재정이관과 관련하여 현재 영유아, 부모, 교사, 기관 등에 지원중인 예산의 지속지원 및 영유아최선의 이익</div>
<div class="x b j" style="left:106px;top:4629px;width:682px">원칙 준수가 언급되고 있으나, 핵심적 논의 과정에서 기초자치단체 등의 참여구조는 아직 미흡한 것으로 나타남(김이배,</div>
<div class="x b" style="left:106px;top:4653px">2023)</div>
<div class="x b da j" style="left:106px;top:4680px;width:682px">특히 지방자치-교육자치 간 회계년도 차이, 재정시스템의 차이 등이 존재하여 협력을 더욱 어렵게 함(RISE지역간담회,</div>
<div class="x b" style="left:106px;top:4705px">2025.2.26; 서윤희 외, 2024)</div>
<div class="x b da j" style="left:106px;top:4730px;width:682px">대표적으로 특수보육시책 및 보육교사지원 등 유보통합이 추진된 뒤에도 주민의 권리를 보다 높은 수준에서</div>
<div class="x b j" style="left:106px;top:4755px;width:682px">보장하기 위해 지역사회에서 지방자치단체의 역할이 필요할 것임(한국지방행정연구원 지방행정혁신실 실포럼,</div>
<div class="x b" style="left:106px;top:4780px">2025.10.30.)</div>
<div class="x b bu j" style="left:93px;top:4807px;width:695px">즉, 유보통합을 둘러싼 지방자치-교육자치 간 연계협력은 업무이관 전까지는 업무의 연속성을 보장하기 위한 차원에서</div>
<div class="x b j" style="left:93px;top:4832px;width:695px">긴밀하게 확보되어야 함. 또한 지방자치단체가 교육청으로 현재의 어린이집 지원 관련 업무를 이관한다고 하더라도, 주민</div>
<div class="x b" style="left:93px;top:4857px">에게 보다 높은 수준의 보육서비스 지원을 위한 특수보육시책의 영역에서 지방자치-교육자치 간 협력은 여전히 필요함</div>
<div class="x b bu" style="left:93px;top:4885px">성과도출을 위해 지역단위에서 광역-기초, 교육청 차원의 포괄적 협력이 필요하기 때문임</div>
<div class="x n j" style="left:83px;top:4947px;width:705px">2) 특히 정주율 개선의 경우 그밖에 지방자치단체가 추진하는 사회복지·문화 등 다양한 영역에서의 정책이 긴밀하게 연계되어야 성과달성이</div>
<div class="x n" style="left:97px;top:4967px">가능하기 때문임(한국지방행정연구원 지방행정혁신실 실포럼, 2025.10.30.)</div>
<div class="x n" style="left:83px;top:4991px">3) 그러나 교육자치 측면에서는 아직까지 초광역적 연계·협력 논의가 부재함</div>
<div class="x n" style="left:83px;top:5016px">4) 대구광역시 정책과제 관련, 발간시점 전 해당 자치단체 의견검토 예정</div>

<div class="x num" style="top:5091px">04</div>
<div class="x tt" style="top:5150px">지방자치-교육자치 연계·협력 대안제언</div>
<div class="x sh" style="top:5238px">다양한 쟁점에 대한 맞춤형 연계·협력 방안 필요</div>
<div class="x b bu j" style="left:93px;top:5287px;width:695px">지방자치-교육자치 연계·협력 강화 방안에 관하여, 학술적 영역에서는 통합과 같은 가장 높은 수준의 대안부터 지역</div>
<div class="x b" style="left:93px;top:5311px">거버넌스 기반의 행정서비스 제공까지 다양한 방안이 논의되고 있음(김승현, 2011)</div>
<div class="x b bu j" style="left:93px;top:5340px;width:695px">교육자치의 모든 영역이 지방자치의 영역이라 할 수는 없지만, 지역경쟁력강화와 인구감소대응이라는 지역문제해결을</div>
<div class="x b" style="left:93px;top:5364px">위해 연계·협력이 필요한 영역은 명백히 존재함</div>
<div class="x b bu j" style="left:93px;top:5393px;width:695px">평생교육차원, 대학교육차원, 초중고교육차원, 영유아교육 및 보육차원 등 생애주기별 영역을 나누어, 적절한 연계·협력</div>
<div class="x b" style="left:93px;top:5417px">방안을 모색하는 것이 필요함</div>
<div class="x b da j" style="left:106px;top:5441px;width:682px">(대학교육차원) 지역 단위의 포괄적 계획수립이 가능한 지방자치단체가 중심이 되어 자치단체-지역대학 간 거버넌스형</div>
<div class="x b" style="left:106px;top:5466px">의사결정구조를 활용하여 지역경쟁력 강화와 정주율 개선 등의 목표를 달성함으로서 지역의 문제를 해결</div>
<div class="x b da j" style="left:106px;top:5490px;width:682px">(초중고교육차원) 교육분야의 전문성이 높은 교육청이 중심이 되는 구조이지만, 지방자치단체 차원에서 보완적으로</div>
<div class="x b" style="left:106px;top:5515px">재난·안전, 복지 등의 차원에서 행정서비스를 제공</div>
<div class="x b da j" style="left:106px;top:5540px;width:682px">(영유아교육 및 보육차원) 교육청을 중심으로 교육·보육 통합서비스를 제공하되, 특수시책 등을 통해 지방자치단체</div>
<div class="x b" style="left:106px;top:5564px">차원에서 보육서비스의 품질제고에 기여</div>
<div class="x b bu j" style="left:93px;top:5595px;width:695px">또한 장기적으로 지역차원의 바램이 있을 경우 공론화 과정을 거쳐, 지방자치-교육자치 통합 등을 지역의 선택에 따라</div>
<div class="x b" style="left:93px;top:5619px">전환할 수 있는 방안논의도 필요하다고 판단됨</div>
<div class="x b da j" style="left:106px;top:5644px;width:682px">(국내입법논의) ① 단체장-교육감 러닝메이트임명으로의 전환('22 정우택·김선교의원 발의안), ② 주민직선·시도지사가</div>
<div class="x b j" style="left:106px;top:5669px;width:682px">의회동의를 얻어 임명·러닝메이트 선출을 열거해 규정하고 교육감 선임 시항을 조례로 정하는 방안('17 이은재의원</div>
<div class="x b" style="left:106px;top:5693px">·'09 김세연의원 발의안) 등이 제안된 바 있음(김범주, 2024)</div>
<div class="x b da" style="left:106px;top:5719px">(미국) 2020년 기준 주지사 임명(26%), 교육위임명(36%), 주지사가 임명(28%) 등으로 조사됨(김범주, 2024)</div>

<div class="x w" style="left:104px;width:82px;top:5778px;font-size:16px;letter-spacing:-1px;line-height:20px">참고문헌</div>
<div class="x r pk" style="top:5806px"><b>교육부(2025)</b>지역혁신중심 대학지원체계(RISE) 지원전략. 교육부 인재정책실(2025.04).</div>
<div class="x r pk" style="top:5830px"><b>김범주(2024)</b>미국의 교육감은 누가 임명하고, 선출하는가, 국회입법조사처 2024.10.17. 제2278호.</div>
<div class="x r pk" style="top:5853px"><b>김승현(2011)</b>지방자치와 지방교육자치 통합의 주요 쟁점과 과제. 한국행정과 정책연구, 9(1), 83-107.</div>
<div class="x r pk" style="top:5876px"><b>김이배(2023)</b>기초자치단체 유보통합 쟁점과 과제. 대한민국시장·군수·구청장협의회. 기초지방정부 정책리포트 제10호.</div>
<div class="x r pk" style="top:5899px"><b>김필 외(2025)</b>주민중심의 지방자치 발전방안 연구. 한국지방행정연구원.</div>
<div class="x r pk" style="top:5923px"><b>서윤희 외(2024)</b>충북형 유보통합 발전 방안 연구. 한국교원대학교산학협력단. 충청북도교육연구정보원. 제2024-35호.</div>
<div class="x r pk" style="top:5946px"><b>이원선 외(2022)</b>2021 지방정부 특수보육시책 현황과 과제. 보건복지부·한국보육진흥원.</div>
<div class="x r pk" style="top:5969px"><b>주재복 외(2025)</b>민선 지방자치30년 평가 연구용역. 행정안전부 수탁연구용역과제.(발간예정).</div>
<div class="x r pk" style="top:5992px"><b>중앙선거관리위원회(2022)</b>제8회 전국동시지방선거(2022.6.1.)에 관한 유권자 인식조사. 중앙선거관리위원회.</div>
<div class="x w" style="left:104px;width:82px;top:6040px;font-size:16px;letter-spacing:-1px;line-height:20px">내용문의</div>
<div class="x r bu" style="top:6066px"><b>김지수</b>한국지방행정연구원 지방행정혁신실장(033-769-9857, jisookim@krila.re.kr)</div>

<div class="x" style="left:124px;top:6130px;font-size:18px;font-weight:bold;color:#222;letter-spacing:-1.6px;line-height:22px">한국지방행정연구원</div>
<div class="x" style="left:125px;top:6153px;font-size:6px;color:#555;line-height:8px">Korea Research Institute for Local Administration</div>
<div class="x" style="left:270px;top:6126px;font-size:15px;color:#444;letter-spacing:-0.6px;line-height:20px"><b style="color:#1d5fbf">TEL.</b> 033)769-9999</div>
<div class="x" style="left:418px;top:6126px;font-size:15px;color:#444;letter-spacing:-0.6px;line-height:20px"><b style="color:#1d5fbf">FAX.</b> 033)769-9805</div>
<div class="x" style="left:569px;top:6126px;font-size:15px;color:#444;letter-spacing:-0.6px;line-height:20px"><b style="color:#1d5fbf">E-mail.</b> brief@krila.re.kr</div>
<div class="x" style="left:270px;top:6147px;font-size:14.5px;color:#444;letter-spacing:-0.9px;line-height:20px">(26464) 강원도 원주시 세계로 21(반곡동) <span style="font-size:11px;color:#888;letter-spacing:-0.5px">COPYRIGHT(C) BY KRILA. ALL RIGHTS RESERVED</span></div>
<div class="x" style="left:238px;top:6191px;font-size:13.5px;color:#555;letter-spacing:-0.9px;line-height:20px">본 메일의 수신을 원하지 않으실 경우 <span style="color:#1d8fe0">brief@krila.re.kr</span>로 회신해주시기 바랍니다.</div>
</div>
</foreignObject>
</svg>
</body></html>
